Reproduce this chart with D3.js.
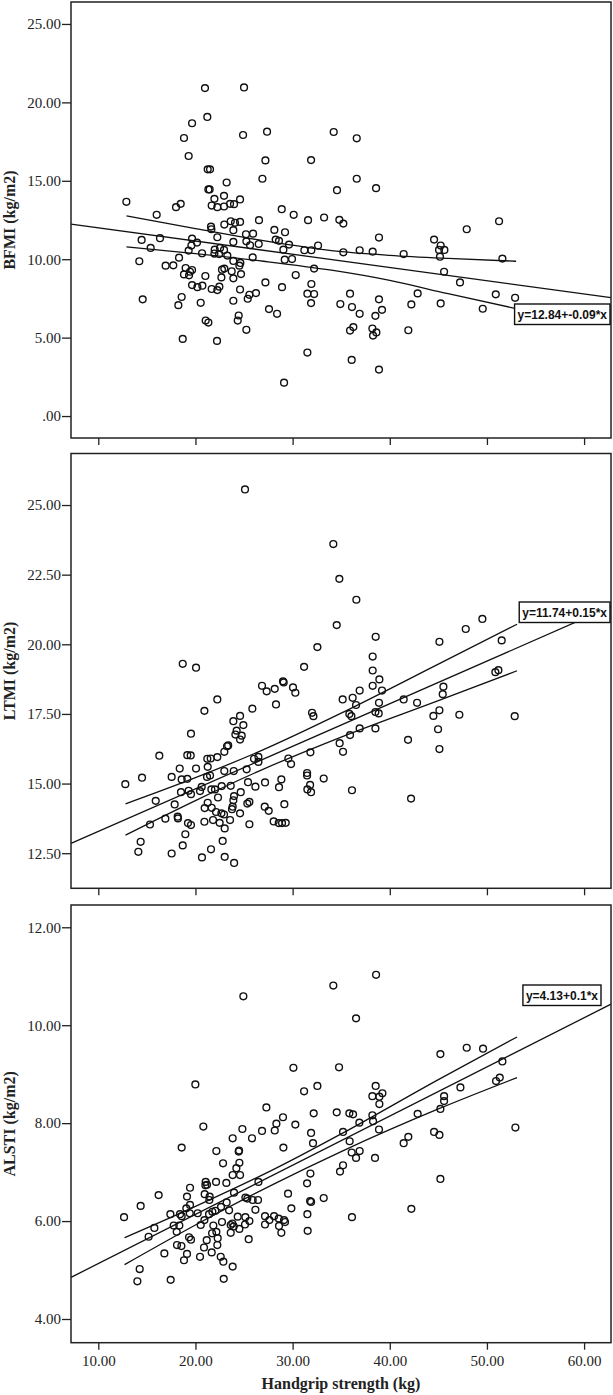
<!DOCTYPE html>
<html lang="en">
<head>
<meta charset="UTF-8">
<title>Handgrip strength vs BFMI / LTMI / ALSTI</title>
<script src="https://d3js.org/d3.v7.min.js"></script>
<style>
  body { margin: 0; background: #fff; }
  svg { display: block; }
  .tick text { font-family: "Liberation Serif", "Times New Roman", serif; font-size: 15px; fill: #222; }
  .tick line { stroke: #222; stroke-width: 1.3px; }
  .axis-title { font-family: "Liberation Serif", "Times New Roman", serif; font-weight: bold; font-size: 16px; fill: #222; }
  .eq { font-family: "Liberation Sans", Arial, sans-serif; font-weight: bold; font-size: 12px; fill: #111; }
</style>
</head>
<body>
<script>
// shared x axis (handgrip strength, kg)
var xTicks = [10, 20, 30, 40, 50, 60];
var xTickLabels = ['10.00', '20.00', '30.00', '40.00', '50.00', '60.00'];
var xDomain = [7.19, 62.77];
var xTitle = 'Handgrip strength (kg)';

// panel 1: BFMI
var bfmiTicks = [0, 5, 10, 15, 20, 25];
var bfmiTickLabels = ['.00', '5.00', '10.00', '15.00', '20.00', '25.00'];
var bfmiDomain = [-1.40, 26.40];
var bfmiPoints = [
  [20.98,20.91],[25.00,20.95],[21.22,19.07],[19.65,18.67],[18.82,17.73],[24.90,17.92],[27.37,18.13],[19.30,16.58],[27.20,16.30],[31.90,16.32],
  [21.26,15.73],[21.50,15.73],[21.33,14.45],[21.46,14.45],[26.89,15.13],[23.21,14.89],[12.89,13.66],[18.00,13.32],[18.48,13.53],[21.95,13.85],
  [22.94,14.04],[24.59,13.81],[21.67,13.42],[22.25,13.32],[22.94,13.36],[23.56,13.53],[23.97,13.51],[16.01,12.83],[28.88,13.19],[30.11,12.83],
  [31.59,12.49],[33.24,12.66],[26.54,12.49],[23.63,12.42],[24.07,12.32],[24.59,12.38],[22.97,12.21],[21.60,12.08],[21.64,11.91],[23.90,11.85],
  [25.20,11.59],[25.93,11.63],[28.12,11.87],[29.22,11.72],[14.46,11.23],[16.35,11.34],[19.65,11.31],[20.16,11.06],[19.58,10.87],[22.25,11.40],
  [23.90,11.10],[25.24,11.14],[25.62,10.89],[26.51,10.97],[28.26,11.25],[28.60,11.17],[29.63,10.93],[32.62,10.87],[15.39,10.72],[19.30,10.55],
  [20.68,10.38],[21.98,10.61],[22.53,10.72],[22.94,10.59],[21.95,10.36],[22.43,10.33],[23.28,10.23],[29.05,10.61],[31.21,10.57],[31.93,10.57],
  [14.22,9.87],[16.93,9.59],[17.72,9.61],[18.31,10.10],[23.90,9.89],[24.62,9.76],[24.52,9.59],[25.89,10.12],[29.19,9.97],[29.94,10.01],
  [18.99,9.44],[19.65,9.31],[19.44,9.20],[18.82,9.03],[19.34,8.97],[22.97,9.40],[22.73,9.33],[23.73,9.23],[24.69,9.05],[32.21,9.40],
  [21.02,8.93],[22.67,8.84],[23.90,8.78],[30.32,8.99],[19.65,8.35],[20.20,8.22],[20.71,8.31],[21.67,8.10],[22.25,8.03],[22.46,8.25],
  [24.59,8.07],[27.20,8.52],[28.91,8.22],[31.93,8.42],[14.57,7.44],[18.58,7.59],[18.24,7.07],[20.54,7.22],[23.90,7.35],[25.38,7.48],
  [25.55,7.73],[26.23,7.84],[31.52,7.80],[32.21,7.78],[31.90,7.20],[27.57,6.82],[28.40,6.52],[24.45,6.41],[24.35,6.09],[21.05,6.09],
  [21.33,5.96],[25.24,5.50],[18.69,4.92],[22.22,4.79],[31.52,4.05],[29.12,2.13],
  [34.23,18.11],[36.60,17.71],[36.60,15.13],[34.57,14.40],[38.59,14.53],[34.81,12.51],[35.22,12.27],[38.89,11.38],[47.92,11.91],[51.25,12.42],
  [44.56,11.25],[45.24,10.87],[45.07,10.59],[45.62,10.59],[45.17,10.16],[35.22,10.44],[36.90,10.57],[38.24,10.48],[41.43,10.33],[51.59,10.04],
  [45.59,9.20],[47.23,8.52],[42.87,7.82],[50.91,7.76],[52.90,7.54],[35.91,7.80],[34.91,7.14],[36.11,6.95],[36.90,6.52],[38.89,7.44],
  [39.20,6.77],[38.52,6.39],[42.22,7.12],[45.24,7.18],[49.57,6.84],[36.25,5.67],[35.91,5.45],[38.21,5.58],[38.62,5.33],[38.28,5.13],
  [41.91,5.47],[36.08,3.58],[38.89,2.96]
];
var bfmiFit = [[7.19,12.24],[62.77,7.55]];
var bfmiUpper = [[12.9,12.76],[20,11.95],[27,11.18],[34,10.55],[40,10.25],[46,10.05],[53,9.87]];
var bfmiLower = [[12.9,10.78],[20,10.35],[27,9.87],[34,9.30],[40,8.65],[46,7.80],[53,6.85]];
var bfmiEq = 'y=12.84+-0.09*x';

// panel 2: LTMI
var ltmiTicks = [12.5, 15, 17.5, 20, 22.5, 25];
var ltmiTickLabels = ['12.50', '15.00', '17.50', '20.00', '22.50', '25.00'];
var ltmiDomain = [11.24, 26.85];
var ltmiPoints = [
  [25.10,25.56],[32.55,19.90],[18.69,19.30],[20.06,19.16],[31.18,19.19],[26.85,18.51],[27.33,18.31],[28.16,18.40],[29.01,18.67],[29.08,18.63],
  [30.04,18.45],[30.28,18.26],[28.29,17.84],[22.25,18.02],[20.92,17.61],[25.86,17.69],[32.00,17.54],[32.14,17.42],
  [24.59,17.43],[23.90,17.24],[24.93,17.10],[24.24,16.90],[24.11,16.76],[24.76,16.72],[24.59,16.58],
  [19.54,16.79],[16.28,16.00],[19.16,16.02],[19.51,16.01],[23.25,16.34],[23.37,16.37],[22.97,16.14],[22.25,15.95],[21.22,15.89],[21.57,15.90],
  [21.26,15.60],[18.38,15.54],[20.06,15.54],[17.55,15.24],[18.58,15.15],[19.16,15.17],[21.19,15.24],[21.50,15.29],[22.97,15.45],[23.94,15.45],
  [25.27,15.51],[26.03,15.89],[26.48,15.96],[26.48,15.78],[29.56,15.90],[29.84,15.70],[31.83,16.12],[12.78,14.98],[14.50,15.21],[15.91,14.38],
  [18.51,14.69],[19.30,14.74],[19.54,14.62],[20.47,14.73],[20.64,14.88],[21.64,14.79],[22.01,14.79],[22.70,14.91],[23.63,14.92],[24.66,14.69],
  [22.32,14.50],[23.97,14.55],[23.90,14.40],[25.41,15.05],[26.17,14.89],[27.16,15.04],[28.60,14.87],[28.84,15.15],[31.49,15.38],[31.49,15.29],
  [31.80,14.95],[31.90,14.69],[31.52,14.79],[33.20,15.18],[17.86,14.25],[21.26,14.31],[20.95,14.12],[21.67,14.13],[22.12,13.98],[22.67,13.93],
  [22.94,13.89],[23.83,14.17],[23.76,14.08],[24.59,13.93],[25.34,14.28],[25.55,14.34],[27.13,14.17],[27.54,14.02],[29.15,14.26],[15.32,13.53],
  [16.90,13.74],[18.17,13.81],[18.20,13.75],[19.23,13.58],[19.54,13.51],[20.92,13.63],[21.81,13.69],[22.49,13.59],[23.01,13.39],[23.56,13.69],
  [25.55,13.54],[28.05,13.64],[28.57,13.58],[28.91,13.58],[29.29,13.59],[18.96,13.18],[14.36,12.91],[14.12,12.55],[18.69,12.78],[22.80,12.94],
  [17.55,12.49],[21.60,12.64],[20.67,12.35],[23.01,12.37],[23.98,12.15],
  [34.19,23.60],[34.81,22.35],[36.56,21.60],[34.54,20.69],[38.55,20.27],[38.24,19.56],[38.24,19.06],[38.93,18.74],[38.24,18.51],[39.20,18.34],
  [35.15,18.02],[36.18,18.08],[36.90,18.34],[36.53,17.82],[35.84,17.50],[36.05,17.42],[38.52,17.57],[38.89,17.90],[38.86,17.52],[41.43,18.02],
  [42.81,17.90],[45.11,20.09],[47.82,20.55],[49.53,20.91],[51.52,20.14],[50.87,19.00],[51.18,19.07],[45.52,18.48],[45.45,18.21],[45.11,17.63],
  [44.49,17.43],[47.16,17.47],[52.86,17.42],[44.97,16.95],[45.11,16.24],[41.88,16.57],[36.90,16.98],[35.91,16.74],[38.52,16.98],[34.84,16.45],
  [35.19,16.14],[36.11,14.76],[42.19,14.46]
];
var ltmiFit = [[7.19,12.85],[62.77,21.35]];
var ltmiUpper = [[12.8,14.27],[20,15.21],[27,16.22],[35,17.53],[45,19.29],[53.1,20.72]];
var ltmiLower = [[12.8,13.15],[20,14.39],[27,15.52],[35,16.67],[45,17.98],[53.1,19.05]];
var ltmiEq = 'y=11.74+0.15*x';

// panel 3: ALSTI
var alstiTicks = [4, 6, 8, 10, 12];
var alstiTickLabels = ['4.00', '6.00', '8.00', '10.00', '12.00'];
var alstiDomain = [3.516, 12.455];
var alstiPoints = [
  [24.93,10.59],[30.08,9.13],[31.18,8.65],[32.55,8.76],[19.99,8.79],[27.30,8.32],[29.01,8.12],[28.33,7.99],[28.16,7.85],[30.28,7.97],
  [32.17,8.20],[31.90,7.80],[32.10,7.59],[20.81,7.93],[24.83,7.88],[26.85,7.84],[23.83,7.69],[25.82,7.69],[29.05,7.50],[18.58,7.50],
  [22.15,7.43],[24.49,7.44],[24.45,7.42],[22.84,7.18],[24.52,7.19],[24.21,7.08],[23.83,6.94],[24.59,6.94],[21.05,6.80],[21.02,6.73],
  [21.19,6.74],[22.12,6.80],[23.18,6.78],[19.44,6.68],[16.21,6.53],[19.13,6.50],[20.95,6.55],[21.46,6.50],[21.43,6.43],[23.97,6.58],
  [25.14,6.48],[25.34,6.46],[25.89,6.43],[26.44,6.43],[29.53,6.56],[31.83,6.97],[31.49,6.77],[31.80,6.41],[31.90,6.39],[33.20,6.47],
  [14.36,6.31],[12.65,6.08],[15.77,5.86],[15.18,5.68],[17.42,6.14],[18.41,6.14],[18.58,6.10],[17.76,5.91],[18.34,5.91],[18.07,5.78],
  [19.06,6.26],[19.44,6.33],[19.41,6.16],[20.23,6.16],[20.54,5.92],[20.92,6.02],[21.40,6.14],[21.74,6.19],[22.05,6.21],[22.63,6.29],
  [23.46,6.22],[21.84,5.91],[22.73,5.98],[23.63,5.92],[23.80,5.95],[23.94,5.89],[24.35,6.09],[25.14,6.08],[25.10,5.93],[25.55,6.00],
  [24.52,5.84],[23.63,5.76],[26.17,6.23],[27.16,6.10],[27.16,5.93],[27.61,6.02],[28.09,6.10],[28.57,6.05],[28.60,5.90],[29.12,6.02],
  [29.22,5.98],[28.84,5.76],[29.87,6.26],[31.52,6.14],[31.55,5.80],[25.48,5.63],[21.71,5.75],[22.15,5.78],[22.29,5.65],[22.25,5.51],
  [19.34,5.67],[19.54,5.62],[18.10,5.51],[18.55,5.49],[21.16,5.61],[20.88,5.46],[21.67,5.36],[20.47,5.27],[19.13,5.33],[18.82,5.20],
  [16.80,5.34],[22.60,5.27],[22.87,5.17],[23.83,5.07],[14.26,5.02],[14.02,4.77],[17.45,4.80],[22.91,4.82],[26.48,6.80],[23.21,6.38],
  [38.59,11.03],[34.19,10.81],[36.53,10.14],[34.78,9.14],[45.21,9.41],[47.92,9.54],[49.60,9.52],[51.59,9.26],[50.94,8.86],[51.32,8.93],
  [47.27,8.73],[45.59,8.55],[45.59,8.45],[45.21,8.29],[42.87,8.19],[52.93,7.91],[38.55,8.76],[38.21,8.55],[38.93,8.54],[39.24,8.61],
  [38.93,8.39],[34.54,8.22],[35.84,8.20],[36.22,8.18],[38.21,8.16],[38.28,8.04],[36.87,8.01],[38.89,7.87],[35.19,7.82],[35.87,7.63],
  [44.56,7.82],[45.11,7.76],[41.91,7.72],[41.43,7.59],[36.08,7.40],[36.90,7.43],[36.53,7.29],[38.48,7.29],[35.19,7.14],[34.88,7.01],
  [45.21,6.86],[36.11,6.08],[42.22,6.25]
];
var alstiFit = [[7.19,4.85],[62.77,10.43]];
var alstiUpper = [[12.7,5.66],[20,6.30],[28,7.05],[35,7.78],[45,8.89],[53.1,9.76]];
var alstiLower = [[12.7,5.11],[20,5.92],[28,6.75],[35,7.42],[45,8.29],[53.1,8.93]];
var alstiEq = 'y=4.13+0.1*x';

var width = 613, height = 1395;
var left = 71, right = 611;

var svg = d3.select('body').append('svg')
	.attr('width', width)
	.attr('height', height);

var x = d3.scaleLinear().domain(xDomain).range([left, right]);

var panels = [
	{ title: 'BFMI (kg/m2)', domain: bfmiDomain, ticks: bfmiTicks, labels: bfmiTickLabels,
	  points: bfmiPoints, fit: bfmiFit, upper: bfmiUpper, lower: bfmiLower, eq: bfmiEq,
	  top: 2, bottom: 438, boxRight: 610, boxTop: 304 },
	{ title: 'LTMI (kg/m2)', domain: ltmiDomain, ticks: ltmiTicks, labels: ltmiTickLabels,
	  points: ltmiPoints, fit: ltmiFit, upper: ltmiUpper, lower: ltmiLower, eq: ltmiEq,
	  top: 453.5, bottom: 888.3, boxRight: 610, boxTop: 602 },
	{ title: 'ALSTI (kg/m2)', domain: alstiDomain, ticks: alstiTicks, labels: alstiTickLabels,
	  points: alstiPoints, fit: alstiFit, upper: alstiUpper, lower: alstiLower, eq: alstiEq,
	  top: 905, bottom: 1342.7, boxRight: 601, boxTop: 985 }
];

panels.forEach(function(p, i) {
	var y = d3.scaleLinear().domain(p.domain).range([p.bottom, p.top]);
	var g = svg.append('g');

	// scatter points
	g.selectAll('circle')
		.data(p.points)
		.enter()
			.append('circle')
			.attr('cx', function(d) { return x(d[0]); })
			.attr('cy', function(d) { return y(d[1]); })
			.attr('r', 3.4)
			.attr('fill', 'none')
			.attr('stroke', '#111')
			.attr('stroke-width', 1.4);

	// fit line and its confidence band
	var line = d3.line()
		.x(function(d) { return x(d[0]); })
		.y(function(d) { return y(d[1]); })
		.curve(d3.curveMonotoneX);

	[p.fit, p.upper, p.lower].forEach(function(l) {
		g.append('path')
			.attr('d', line(l))
			.attr('fill', 'none')
			.attr('stroke', '#111')
			.attr('stroke-width', 1.3);
	});

	// y axis
	var yAxis = d3.axisLeft(y)
		.tickValues(p.ticks)
		.tickFormat(function(d, k) { return p.labels[k]; })
		.tickSize(9)
		.tickPadding(1);
	g.append('g')
		.attr('transform', 'translate(' + left + ',0)')
		.call(yAxis)
		.call(function(a) { a.select('.domain').remove(); });

	// x axis ticks (labels only on the last panel)
	var last = i === panels.length - 1;
	var xAxis = d3.axisBottom(x)
		.tickValues(xTicks)
		.tickFormat(function(d, k) { return last ? xTickLabels[k] : ''; })
		.tickSize(7)
		.tickPadding(6);
	g.append('g')
		.attr('transform', 'translate(0,' + p.bottom + ')')
		.call(xAxis)
		.call(function(a) { a.select('.domain').remove(); });

	// frame
	g.append('rect')
		.attr('x', left)
		.attr('y', p.top)
		.attr('width', right - left)
		.attr('height', p.bottom - p.top)
		.attr('fill', 'none')
		.attr('stroke', '#222')
		.attr('stroke-width', 1.5);

	// y title
	g.append('text')
		.attr('class', 'axis-title')
		.attr('text-anchor', 'middle')
		.attr('transform', 'translate(15,' + ((p.top + p.bottom) / 2) + ') rotate(-90)')
		.text(p.title);

	// equation box
	var box = g.append('g');
	var rect = box.append('rect');
	var txt = box.append('text')
		.attr('class', 'eq')
		.attr('text-anchor', 'middle')
		.text(p.eq);
	var tw = txt.node().getComputedTextLength() + 6;
	rect.attr('x', p.boxRight - tw)
		.attr('y', p.boxTop)
		.attr('width', tw)
		.attr('height', 20.5)
		.attr('fill', '#fff')
		.attr('stroke', '#111')
		.attr('stroke-width', 1.4);
	txt.attr('x', p.boxRight - tw / 2)
		.attr('y', p.boxTop + 14.8);
});

svg.append('text')
	.attr('class', 'axis-title')
	.attr('text-anchor', 'middle')
	.attr('x', (left + right) / 2)
	.attr('y', 1389)
	.text(xTitle);
</script>
</body>
</html>
